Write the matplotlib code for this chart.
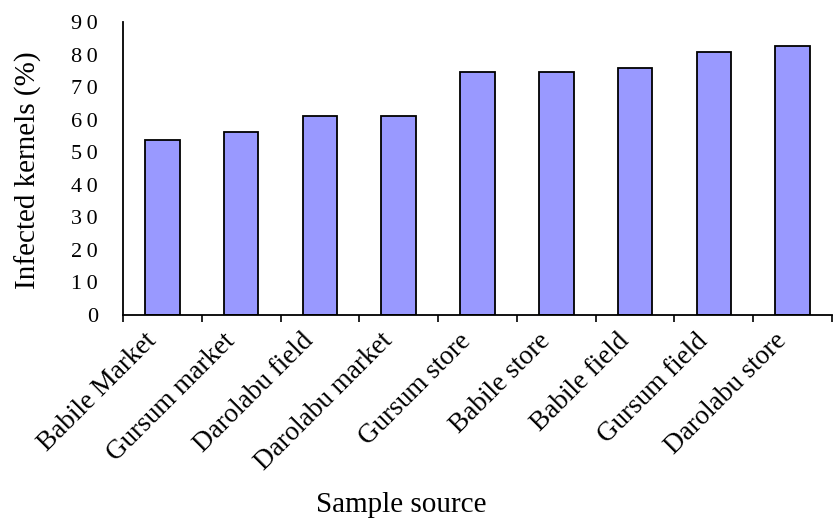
import matplotlib
matplotlib.use("Agg")
import matplotlib.pyplot as plt
import matplotlib.transforms as mtransforms

categories = ["Babile Market", "Gursum market", "Darolabu field", "Darolabu market",
              "Gursum store", "Babile store", "Babile field", "Gursum field", "Darolabu store"]
values = [53.7, 56.1, 61.0, 61.0, 74.6, 74.6, 75.8, 80.7, 82.5]
yticks = [0, 10, 20, 30, 40, 50, 60, 70, 80, 90]

plt.rcParams['font.family'] = ['Liberation Serif', 'DejaVu Serif']

fig = plt.figure(figsize=(8.33, 5.22), dpi=100)
ax = fig.add_axes([123/833, 1 - 315/522, (832-123)/833, (315-22)/522])

x = list(range(len(categories)))
ax.bar(x, values, width=0.44, color='#9999FF', edgecolor='black', linewidth=1.3)
ax.set_xlim(-0.5, len(categories) - 0.5)
ax.set_ylim(0, 90)
ax.set_yticks(yticks)
ax.set_yticklabels(["\u2009".join(str(v)) for v in yticks], fontsize=16)
ax.tick_params(axis='y', length=0, pad=18)
ax.set_xticks([i + 0.5 for i in range(-1, len(categories))], minor=False)
ax.set_xticklabels([])
ax.tick_params(axis='x', which='major', length=5, direction='out', width=1.2)
ax.set_xticks(x, minor=True)
ax.set_xticklabels(categories, minor=True, rotation=45, ha='right', va='center',
                   rotation_mode='anchor', fontsize=19.5)
ax.tick_params(axis='x', which='minor', length=0, pad=16)
offset = mtransforms.ScaledTranslation(-10/100, 0, fig.dpi_scale_trans)
for lbl in ax.get_xticklabels(minor=True):
    lbl.set_transform(lbl.get_transform() + offset)

for s in ['top', 'right']:
    ax.spines[s].set_visible(False)
ax.spines['left'].set_linewidth(1.3)
ax.spines['bottom'].set_linewidth(1.3)

fig.text(28/833, 1 - 170/522, "Infected kernels (%)", rotation=90, ha='center', va='center', fontsize=21)
fig.text(401/833, 1 - 505/522, "Sample source", ha='center', va='center', fontsize=21)

fig.savefig("out.png", dpi=100)
